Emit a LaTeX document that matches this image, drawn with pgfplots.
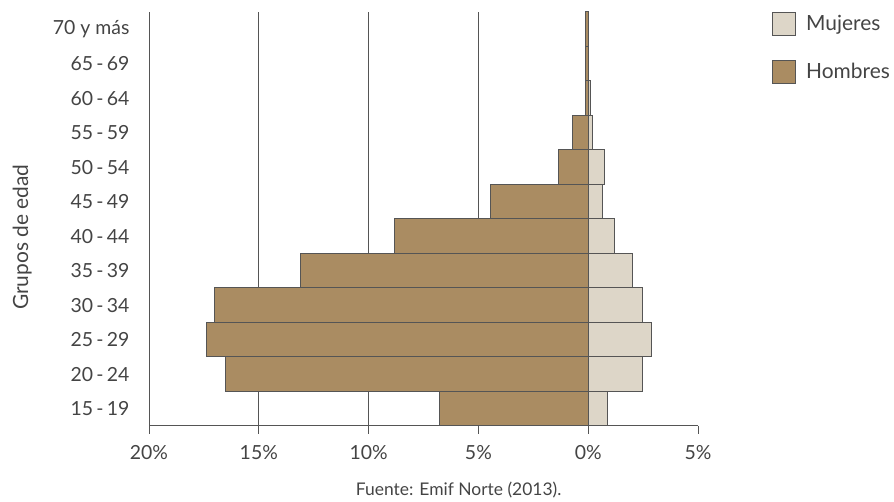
\documentclass[border=0pt]{standalone}
\usepackage{pgfplots}
\pgfplotsset{compat=1.18}
\usepackage{fontspec}
\setmainfont{Lato}
\definecolor{hom}{HTML}{AA8C62}
\definecolor{muj}{HTML}{DDD6C8}
\definecolor{edge}{HTML}{555555}
\definecolor{txt}{HTML}{444444}
\begin{document}
\begin{tikzpicture}[x=1bp,y=1bp]
\path[use as bounding box] (0,0) rectangle (894,502);
\begin{axis}[
  at={(149bp,76bp)}, anchor=south west,
  scale only axis, width=549bp, height=414bp,
  xmin=-20, xmax=5, ymin=-0.5, ymax=11.5,
  axis x line*=bottom, axis y line*=left,
  axis line style={edge, line width=1pt, -},
  xtick={-20,-15,-10,-5,0,5},
  xticklabels={20\%,15\%,10\%,5\%,0\%,5\%},
  tick align=outside, major tick length=8bp,
  x tick style={edge, line width=1pt},
  ytick={0,...,11},
  yticklabels={15\,-\,19,20\,-\,24,25\,-\,29,30\,-\,34,35\,-\,39,40\,-\,44,45\,-\,49,50\,-\,54,55\,-\,59,60\,-\,64,65\,-\,69,70 y más},
  y tick style={draw=none},
  extra x ticks={-15,-10,-5},
  extra x tick labels={},
  extra x tick style={grid=major, major grid style={edge, line width=1.1pt}, major tick length=0pt},
  ticklabel style={font=\fontsize{19.5}{22}\selectfont, text=txt},
  /pgf/number format/assume math mode=true,
  yticklabel style={xshift=-8bp},
  xticklabel style={yshift=-8bp},
  ylabel={Grupos de edad},
  ylabel style={at={(axis description cs:-0.231,0.456)}, anchor=center, font=\fontsize{21}{24}\selectfont, text=txt},
  xlabel={Fuente: Emif Norte (2013).},
  xlabel style={at={(axis description cs:0.564,-0.155)}, anchor=center, font=\fontsize{17.5}{20}\selectfont, text=txt},
  legend style={at={(axis description cs:1.135,1.0)}, anchor=north west, draw=none, fill=none,
    font=\fontsize{21}{24}\selectfont, text=txt, row sep=24bp, inner sep=0pt, outer sep=0pt,
    nodes={inner sep=2bp}, /tikz/every odd column/.style={column sep=8bp}},
  legend cell align=left,
]
\addplot[xbar, bar width=1, bar shift=0pt, fill=muj, draw=edge, line width=1pt,
  legend image code/.code={\draw[fill=muj, draw=edge, line width=1pt] (0bp,-11.5bp) rectangle (23bp,11.5bp);}]
  coordinates {(0.86,0) (2.45,1) (2.87,2) (2.45,3) (2.03,4) (1.18,5) (0.64,6) (0.74,7) (0.21,8) (0.12,9) (0.02,10) (0.02,11)};
\addlegendentry{Mujeres}
\addplot[xbar, bar width=1, bar shift=0pt, fill=hom, draw=edge, line width=1pt,
  legend image code/.code={\draw[fill=hom, draw=edge, line width=1pt] (0bp,-11.5bp) rectangle (23bp,11.5bp);}]
  coordinates {(-6.79,0) (-16.5,1) (-17.36,2) (-17.04,3) (-13.12,4) (-8.84,5) (-4.46,6) (-1.37,7) (-0.73,8) (-0.14,9) (-0.12,10) (-0.12,11)};
\addlegendentry{Hombres}
\end{axis}
\end{tikzpicture}
\end{document}
